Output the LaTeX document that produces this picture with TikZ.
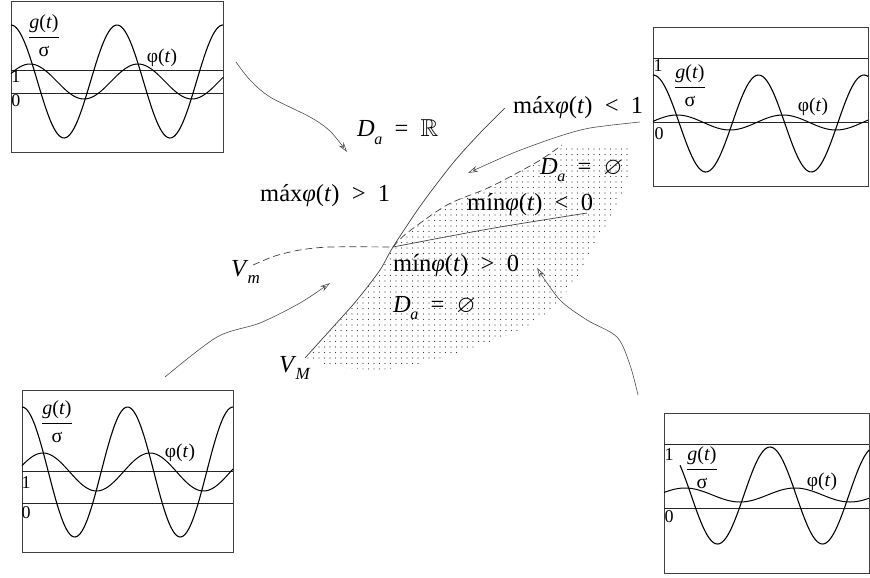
\documentclass[tikz,border=0pt]{standalone}
\usepackage{amsmath,amssymb}
\usepackage{fontspec}
\setmainfont{Liberation Serif}
\usetikzlibrary{arrows.meta,patterns.meta}
\newcommand\Da{\textit{D}\kern-0.5pt\raisebox{-0.3em}{\fontsize{16}{16}\selectfont\textit{a}}}
\newcommand\Gfrac{$\dfrac{\text{\textit{g}(\textit{t})}}{\text{σ}}$}
\begin{document}
\begin{tikzpicture}[x=1pt,y=-1pt,
  box/.style={draw=black!75,line width=0.9pt},
  hline/.style={draw=black!85,line width=0.9pt},
  gc/.style={line width=1.1pt},
  pc/.style={line width=1.0pt},
  small/.style={font=\fontsize{19.5}{21}\selectfont,inner sep=0pt},
  frac/.style={font=\fontsize{20}{22}\selectfont,inner sep=0pt},
  digit/.style={font=\fontsize{18}{20}\selectfont,inner sep=0pt},
  big/.style={font=\fontsize{24.5}{26}\selectfont,inner sep=0pt,anchor=west},
  conn/.style={draw=black!70,line width=0.6pt,-{Stealth[open,length=10pt,width=6pt]}},
  bound/.style={draw=black!75,line width=0.7pt}]
\useasboundingbox (0,0) rectangle (870,578);

% ---------- shaded region ----------
\fill[pattern={Dots[distance=5.5pt,radius=0.7pt]},pattern color=black!75]
  plot[smooth] coordinates {(393,247) (380,270) (357,300) (333,327) (307,357)}
  -- plot[smooth] coordinates {(307,358) (343,368) (400,368) (457,353) (520,330) (553,307) (580,273) (597,240) (615,210) (628,175) (632,145)}
  -- (562,145)
  -- plot[smooth] coordinates {(562,145) (537,162) (490,187) (447,205) (407,233) (393,247)} -- cycle;

% ---------- boundaries ----------
\draw[bound] plot[smooth] coordinates {(305,358) (333,327) (357,300) (380,270) (393,247) (421,205) (453,163) (480,133) (505,108)};
\draw[bound,dash pattern=on 7pt off 4pt] plot[smooth] coordinates {(253,265) (275,256) (300,250) (330,247) (393,247)};
\draw[bound,dash pattern=on 7pt off 4pt] plot[smooth] coordinates {(393,247) (407,233) (447,205) (490,187) (537,162) (562,145)};
\draw[bound] plot[smooth] coordinates {(393,247) (440,238) (500,227) (587,213)};

% ---------- arrows ----------
\draw[conn] plot[smooth] coordinates {(236,62) (250,80) (270,97) (310,117) (330,131) (347,152)};
\draw[conn] plot[smooth] coordinates {(640,122) (590,128) (557,137) (513,153) (468,173)};
\draw[conn] plot[smooth] coordinates {(165,377) (217,337) (260,323) (300,303) (330,283)};
\draw[conn] plot[smooth] coordinates {(638,395) (630,365) (617,337) (587,320) (560,300) (537,268)};

% ---------- central labels ----------
\node[big] (lR) at (357,132) {\Da\ \ =\ \ $\mathbb{R}$};
\node[big] (lmax1) at (260,196) {máx\textit{φ}(\textit{t})\ \ >\ \ 1};
\node[big] (lmax2) at (513,108) {máx\textit{φ}(\textit{t})\ \ <\ \ 1};
\node[big] (le1) at (540,170) {\Da\ \ =\ \ $\varnothing$};
\node[big] (lmin1) at (467,205) {mín\textit{φ}(\textit{t})\ \ <\ \ 0};
\node[big] (lmin2) at (393,266) {mín\textit{φ}(\textit{t})\ \ >\ \ 0};
\node[big] (le2) at (393,308) {\Da\ \ =\ \ $\varnothing$};
\node[big] (vm) at (231,272) {\textit{V}\kern-1pt\raisebox{-0.3em}{\fontsize{17}{17}\selectfont\textit{m}}};
\node[big] (vM) at (279,368) {\textit{V}\kern-1pt\raisebox{-0.3em}{\fontsize{17}{17}\selectfont\textit{M}}};

% ---------- box 1 (top left) ----------
\draw[box] (11,1) rectangle (223,152);
\draw[hline] (11,70) -- (223,70);
\draw[hline] (11,93) -- (223,93);
\draw[gc] plot[domain=11:223,samples=120,smooth] (\x,{81.5-56.5*cos((\x-11)/106*360)});
\draw[pc] plot[domain=11:223,samples=120,smooth] (\x,{81.5-17.5*cos((\x-30)/108*360)});
\node[digit] (b1one) at (16,77) {1};
\node[digit] (b1zero) at (16,101) {0};
\node[frac] (b1g) at (44,36) {\Gfrac};
\node[small] (b1p) at (162,58) {φ(\textit{t})};

% ---------- box 2 (top right) ----------
\draw[box] (653,27) rectangle (868,186);
\draw[hline] (653,58) -- (868,58);
\draw[hline] (653,122) -- (868,122);
\draw[gc] plot[domain=653:868,samples=120,smooth] (\x,{123.5-48.5*cos((\x-653)/105.5*360)});
\draw[pc] plot[domain=653:868,samples=120,smooth] (\x,{122.5-7.5*cos((\x-677)/106*360)});
\node[digit] (b2one) at (658,66) {1};
\node[digit] (b2zero) at (659,134) {0};
\node[frac] (b2g) at (690,86) {\Gfrac};
\node[small] (b2p) at (813,107) {φ(\textit{t})};

% ---------- box 3 (bottom left) ----------
\draw[box] (22,390) rectangle (233,552);
\draw[hline] (22,471) -- (233,471);
\draw[hline] (22,503) -- (233,503);
\draw[gc] plot[domain=22:233,samples=120,smooth] (\x,{472-65*cos((\x-22)/105.5*360)});
\draw[pc] plot[domain=22:233,samples=120,smooth] (\x,{472-19*cos((\x-43)/107*360)});
\node[digit] (b3one) at (26,483) {1};
\node[digit] (b3zero) at (26,513) {0};
\node[frac] (b3g) at (57,422) {\Gfrac};
\node[small] (b3p) at (180,453) {φ(\textit{t})};

% ---------- box 4 (bottom right) ----------
\draw[box] (664,413) rectangle (869,573);
\draw[hline] (664,444) -- (869,444);
\draw[hline] (664,508) -- (869,508);
\draw[gc] plot[domain=680:869,samples=120,smooth] (\x,{495.5-48.5*cos((\x-770)/105*360)});
\draw[pc] plot[domain=664:869,samples=120,smooth] (\x,{495-7*cos((\x-685)/110*360)});
\node[digit] (b4one) at (669,455) {1};
\node[digit] (b4zero) at (669,517) {0};
\node[frac] (b4g) at (702,468) {\Gfrac};
\node[small] (b4p) at (822,482) {φ(\textit{t})};
\end{tikzpicture}
\end{document}
